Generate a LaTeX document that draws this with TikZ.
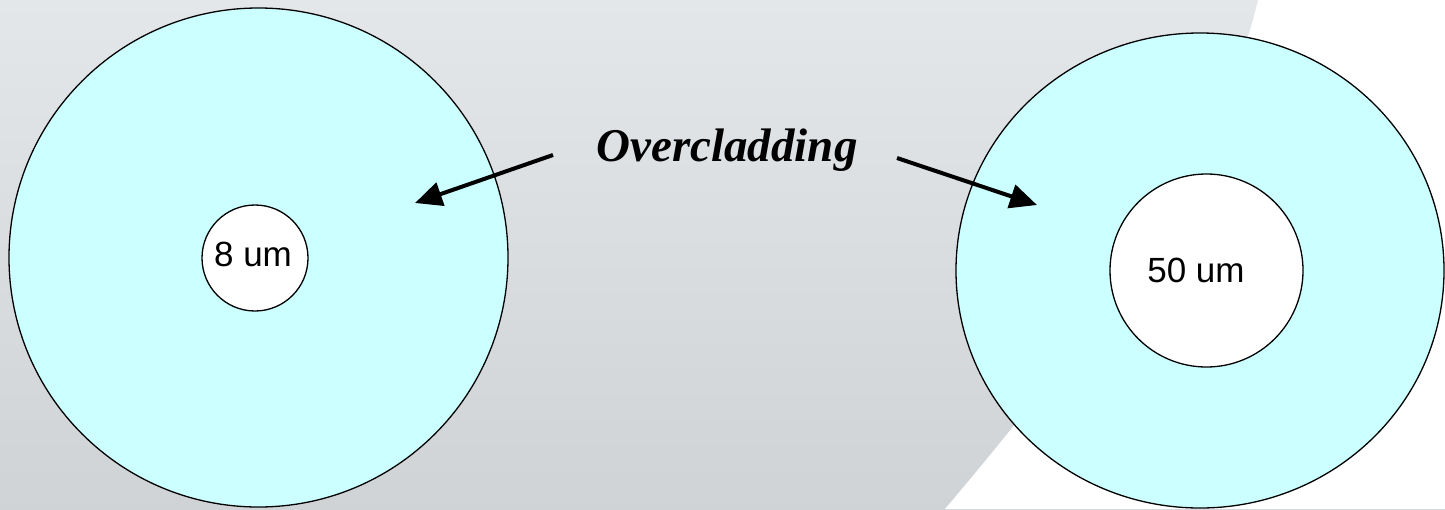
\documentclass[tikz,border=0pt]{standalone}
\usepackage{fontspec}
\setmainfont{Liberation Serif}
\newfontfamily\arialfont{Liberation Sans}
\usetikzlibrary{shapes.geometric,arrows.meta}
\definecolor{bgtop}{HTML}{E4E7EA}
\definecolor{bgbot}{HTML}{D0D3D6}
\definecolor{clad}{HTML}{CCFFFF}
\tikzset{
  outer/.style={draw=black, line width=1.3pt, fill=clad, inner sep=0pt},
  core/.style={circle, draw=black, line width=1.3pt, fill=white, inner sep=0pt},
  lbl/.style={font=\arialfont\fontsize{35}{42}\selectfont, inner sep=0pt, anchor=base},
  ttl/.style={font=\bfseries\itshape\fontsize{47}{56}\selectfont, inner sep=0pt, anchor=base},
  pointer/.style={line width=4pt, -{Triangle[length=27pt,width=24pt]}}
}
\begin{document}
\begin{tikzpicture}[x=1pt,y=-1pt]
\useasboundingbox (0,0) rectangle (1445,509);
% background
\shade[top color=bgtop, bottom color=bgbot] (0,0) rectangle (1445,509);
\fill[white] (1258,0) .. controls (1219,170) and (1072,359) .. (945,509) -- (1445,509) -- (1445,0) -- cycle;
% left fibre
\node[outer, circle, minimum size=499pt] (lout) at (258.5,257.5) {};
\node[core, minimum size=106pt] (lcore) at (255,258) {};
\node[lbl] (ltxt) at (253,266) {8 um};
% right fibre
\node[outer, ellipse, minimum width=488pt, minimum height=475pt] (rout) at (1200,270.5) {};
\node[core, minimum size=193pt] (rcore) at (1206.5,270.5) {};
\node[lbl] (rtxt) at (1196,282) {50 um};
% title and arrows
\node[ttl] (title) at (727,161) {Overcladding};
\coordinate (ls) at (553,155);
\coordinate (lt) at (415,203);
\coordinate (rs) at (897,158);
\coordinate (rt) at (1037,205);
\draw[pointer] (ls) -- (lt);
\draw[pointer] (rs) -- (rt);
\end{tikzpicture}
\end{document}
